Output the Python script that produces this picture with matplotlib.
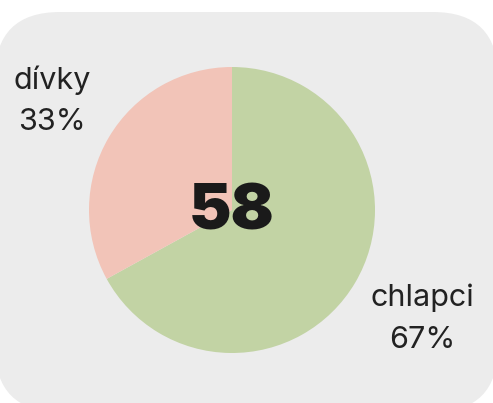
import matplotlib
matplotlib.use("Agg")
import matplotlib.pyplot as plt
from matplotlib.patches import FancyBboxPatch

categories = ["chlapci", "dívky"]
values = [67, 33]
total = 58
colors = ["#c2d3a4", "#f2c4b8"]

W, H = 493, 403
fig = plt.figure(figsize=(W / 100, H / 100), dpi=100)
fig.patch.set_facecolor("white")

bg = fig.add_axes([0, 0, 1, 1])
bg.set_xlim(0, W)
bg.set_ylim(H, 0)
bg.axis("off")
bg.add_patch(FancyBboxPatch((-5 + 65, 12 + 65), W + 10 - 130, 400 - 130,
                            boxstyle="round,pad=65", fc="#ececec", ec="none"))

cx, cy, r = 232, 210, 143
ax = fig.add_axes([(cx - r) / W, (H - cy - r) / H, 2 * r / W, 2 * r / H])
ax.pie(values, colors=colors, startangle=90, counterclock=False, radius=1,
       wedgeprops=dict(linewidth=0))
ax.set_xlim(-1, 1)
ax.set_ylim(-1, 1)
ax.set_aspect("equal")
ax.axis("off")

ax.text(0, -0.02, str(total), ha="center", va="center", fontsize=46,
        fontweight="black", family="Inter", color="#1a1a1a")

fs = 22
tc = "#222222"
bg.text(52, 80, categories[1], ha="center", va="center", fontsize=fs, family="Inter", color=tc)
bg.text(52, 122, f"{values[1]}%", ha="center", va="center", fontsize=fs, family="Inter", color=tc)
bg.text(422, 298, categories[0], ha="center", va="center", fontsize=fs, family="Inter", color=tc)
bg.text(422, 340, f"{values[0]}%", ha="center", va="center", fontsize=fs, family="Inter", color=tc)

fig.savefig("out.png", dpi=100)
